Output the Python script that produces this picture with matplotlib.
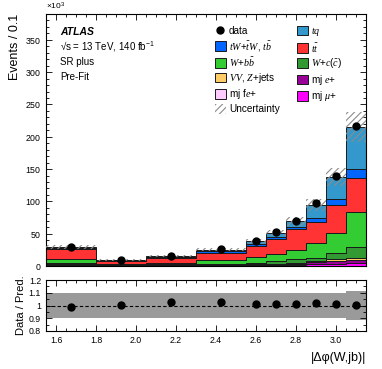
import numpy as np
import matplotlib
matplotlib.use("Agg")
import matplotlib.pyplot as plt
from matplotlib.patches import Patch
from matplotlib.lines import Line2D
from matplotlib.ticker import MultipleLocator, AutoMinorLocator

plt.rcParams['font.family'] = ['Liberation Sans', 'DejaVu Sans']
plt.rcParams['mathtext.fontset'] = 'custom'
plt.rcParams['mathtext.rm'] = 'Liberation Sans'
plt.rcParams['mathtext.it'] = 'Liberation Serif:italic'
plt.rcParams['mathtext.bf'] = 'Liberation Sans:bold'
plt.rcParams['hatch.linewidth'] = 0.8

# ---------------- data ----------------
bin_edges = [1.55, 1.80, 2.05, 2.30, 2.55, 2.65, 2.75, 2.85, 2.95, 3.05, 3.15]

# events / 0.1 (in units of 1e3 events, converted below)
tq      = [2.2, 0.6, 1.2, 2.5, 3.9, 6.0, 8.3, 20.0, 34.0, 65.0]
tW      = [1.8, 0.6, 1.0, 2.2, 3.5, 3.5, 4.0, 6.6, 9.3, 14.0]
ttbar   = [15.5, 5.6, 7.8, 11.8, 17.0, 22.7, 32.0, 33.0, 42.6, 53.0]
Wbb     = [5.5, 1.3, 2.5, 5.3, 9.0, 11.2, 14.6, 22.4, 31.0, 53.0]
Wc      = [2.3, 0.7, 1.4, 1.8, 2.5, 4.0, 5.4, 5.1, 10.3, 17.0]
VV      = [0.4, 0.1, 0.2, 0.3, 0.4, 0.5, 0.8, 1.2, 2.6, 4.0]
mj_e    = [0.8, 0.2, 0.4, 0.6, 0.9, 1.4, 1.8, 2.8, 4.3, 4.5]
mj_fe   = [0.1, 0.05, 0.05, 0.1, 0.1, 0.2, 0.2, 0.3, 0.3, 0.5]
mj_mu   = [1.2, 0.3, 0.55, 0.8, 1.1, 1.7, 2.2, 3.5, 3.2, 4.0]
data    = [29.5, 9.5, 15.5, 26.0, 39.0, 52.0, 70.0, 97.0, 139.0, 216.0]
rel_unc = [0.10, 0.10, 0.095, 0.095, 0.10, 0.10, 0.10, 0.10, 0.10, 0.11]

labels = {
    'tq': r'$tq$',
    'tW': r'$tW$+$\bar{t}W$, $t\bar{b}$',
    'tt': r'$t\bar{t}$',
    'Wbb': r'$W$+$b\bar{b}$',
    'Wc': r'$W$+$c(\bar{c})$',
    'VV': r'$VV$, $Z$+jets',
    'mj_e': r'mj $e$+',
    'mj_fe': r'mj f$e$+',
    'mj_mu': r'mj $\mu$+',
}
colors = {
    'tq': '#3399cc', 'tW': '#0066ff', 'tt': '#ff3333', 'Wbb': '#33cc33',
    'Wc': '#339933', 'VV': '#ffcc66', 'mj_e': '#990099', 'mj_fe': '#ffccff',
    'mj_mu': '#ff00ff',
}

scale = 1e3
edges = np.array(bin_edges)
centers = 0.5 * (edges[:-1] + edges[1:])
# stack bottom -> top
stack = [('mj_mu', mj_mu), ('mj_fe', mj_fe), ('mj_e', mj_e), ('VV', VV),
         ('Wc', Wc), ('Wbb', Wbb), ('tt', ttbar), ('tW', tW), ('tq', tq)]

W, H = 382, 369
fig = plt.figure(figsize=(W / 100, H / 100), dpi=100)
ax = fig.add_axes([46 / W, 1 - 266 / H, 320 / W, 252 / H])
rax = fig.add_axes([46 / W, 1 - 331 / H, 320 / W, 51 / H])

base = np.zeros(len(centers))
for key, vals in stack:
    v = np.array(vals) * scale
    ax.stairs(base + v, edges, baseline=base.copy(), fill=True,
              facecolor=colors[key], edgecolor='#1a1a1a', linewidth=0.7, zorder=2)
    base = base + v
total = base
unc = total * np.array(rel_unc)
ax.bar(edges[:-1], 2 * unc, bottom=total - unc, width=np.diff(edges), align='edge',
       fill=False, hatch='/////', edgecolor='#8c8c8c', linewidth=0, zorder=3)
d = np.array(data) * scale
ax.plot(centers, d, 'o', color='black', markersize=5, zorder=4)

ax.set_xlim(edges[0], edges[-1])
ax.set_ylim(0, 390e3)
ax.ticklabel_format(axis='y', style='sci', scilimits=(3, 3), useMathText=True)
ax.yaxis.get_offset_text().set_fontsize(6)
ax.yaxis.set_major_locator(MultipleLocator(50e3))
ax.yaxis.set_minor_locator(AutoMinorLocator(5))
ax.xaxis.set_major_locator(MultipleLocator(0.2))
ax.xaxis.set_minor_locator(AutoMinorLocator(4))
ax.tick_params(axis='both', which='both', direction='in', top=True, right=True, labelsize=6.3)
ax.tick_params(which='major', length=4, width=0.6)
ax.tick_params(which='minor', length=2, width=0.6)
ax.tick_params(axis='x', labelbottom=False)
ax.set_ylabel('Events / 0.1', fontsize=9, loc='top', labelpad=3)
for s in ax.spines.values():
    s.set_linewidth(0.8)

# texts
ax.text(0.044, 0.928, 'ATLAS', transform=ax.transAxes, fontsize=7.5,
        fontweight='bold', fontstyle='italic', va='center')
ax.text(0.044, 0.868, r'√s = 13 TeV, 140 fb$^{-1}$', transform=ax.transAxes,
        fontsize=7, va='center')
ax.text(0.044, 0.809, 'SR plus', transform=ax.transAxes, fontsize=7, va='center')
ax.text(0.044, 0.75, 'Pre-Fit', transform=ax.transAxes, fontsize=7, va='center')

# legend
def box(key):
    return Patch(facecolor=colors[key], edgecolor='#1a1a1a', linewidth=0.7)
h_data = Line2D([], [], marker='o', color='black', linestyle='none', markersize=5)
h_unc = Patch(facecolor='none', edgecolor='#8c8c8c', hatch='/////', linewidth=0)
handles = [h_data, box('tW'), box('Wbb'), box('VV'), box('mj_fe'), h_unc,
           box('tq'), box('tt'), box('Wc'), box('mj_e'), box('mj_mu')]
labs = ['data', labels['tW'], labels['Wbb'], labels['VV'], labels['mj_fe'], 'Uncertainty',
        labels['tq'], labels['tt'], labels['Wc'], labels['mj_e'], labels['mj_mu']]
leg = ax.legend(handles, labs, ncol=2, loc='upper left',
                bbox_to_anchor=(215 / W, 1 - 25 / H), bbox_transform=fig.transFigure,
                frameon=False, fontsize=7.2, handlelength=1.1, handleheight=1.1,
                handletextpad=0.3, columnspacing=1.7, labelspacing=0.26, borderpad=0,
                borderaxespad=0)

# ratio panel
ratio = d / total
rax.stairs(1 + np.array(rel_unc), edges, baseline=1 - np.array(rel_unc), fill=True,
           color='#9a9a9a', linewidth=0, zorder=1)
rax.axhline(1.0, color='black', linestyle=(0, (3, 2)), linewidth=0.8, zorder=2)
rax.plot(centers, ratio, 'o', color='black', markersize=5, zorder=3)
rax.set_xlim(edges[0], edges[-1])
rax.set_ylim(0.8, 1.2)
rax.set_yticks([0.8, 0.9, 1.0, 1.1, 1.2])
rax.set_yticklabels(['0.8', '0.9', '1', '1.1', '1.2'])
rax.xaxis.set_major_locator(MultipleLocator(0.2))
rax.xaxis.set_minor_locator(AutoMinorLocator(4))
rax.yaxis.set_minor_locator(AutoMinorLocator(2))
rax.tick_params(axis='both', which='both', direction='in', top=True, right=True, labelsize=6.3)
rax.tick_params(which='major', length=4, width=0.6)
rax.tick_params(which='minor', length=2, width=0.6)
rax.set_ylabel('Data / Pred.', fontsize=8, labelpad=2)
rax.set_xlabel('|Δφ(W,jb)|', fontsize=9, loc='right', labelpad=5)
for s in rax.spines.values():
    s.set_linewidth(0.8)

fig.savefig('out.png', dpi=100)
